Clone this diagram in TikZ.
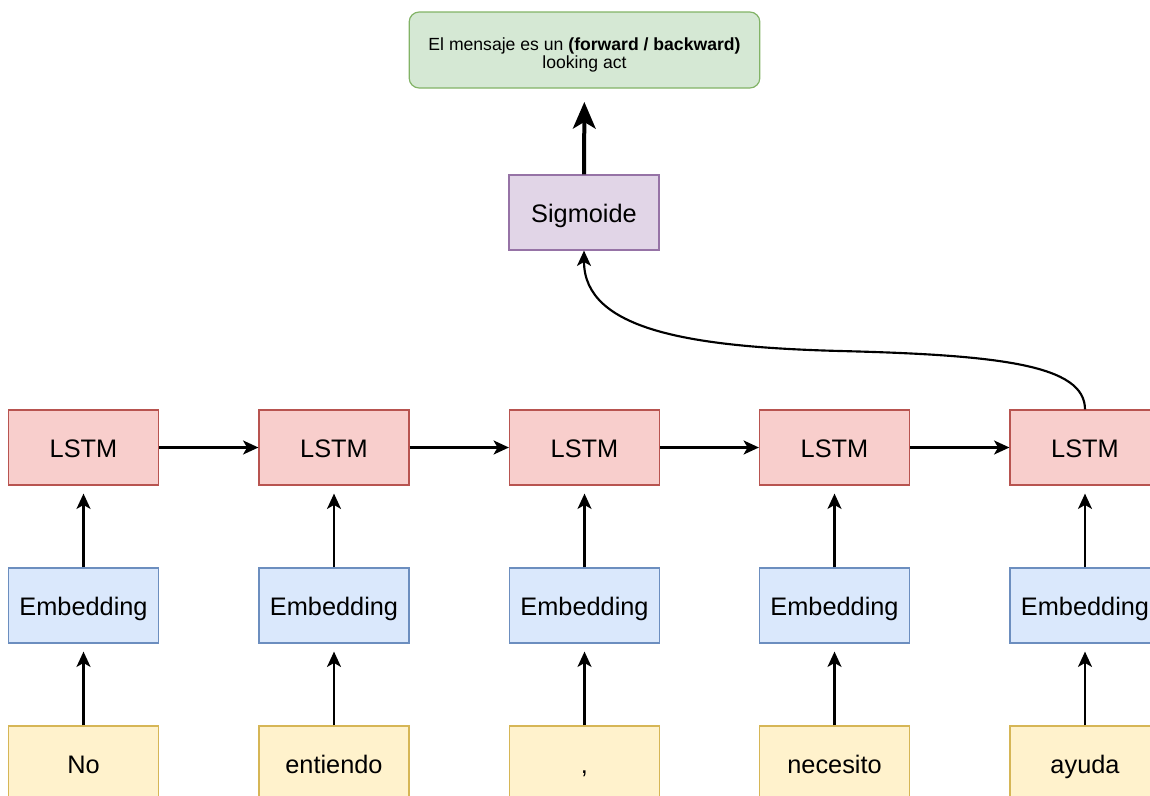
\documentclass[tikz,border=0pt]{standalone}
\usepackage{fontspec}
\setmainfont{Liberation Sans}
\usetikzlibrary{arrows.meta}

\definecolor{greenfill}{HTML}{D5E8D4}\definecolor{greenline}{HTML}{82B366}
\definecolor{purplefill}{HTML}{E1D5E7}\definecolor{purpleline}{HTML}{9673A6}
\definecolor{redfill}{HTML}{F8CECC}\definecolor{redline}{HTML}{B85450}
\definecolor{bluefill}{HTML}{DAE8FC}\definecolor{blueline}{HTML}{6C8EBF}
\definecolor{yellowfill}{HTML}{FFF2CC}\definecolor{yellowline}{HTML}{D6B656}

\tikzset{
  box/.style={draw, line width=0.9pt, minimum width=112.5pt, minimum height=56.25pt,
    inner sep=0pt, text height=16pt, text depth=1.3pt,
    font=\fontsize{19}{22}\selectfont},
  lstm/.style={box, fill=redfill, draw=redline},
  embed/.style={box, fill=bluefill, draw=blueline},
  word/.style={box, fill=yellowfill, draw=yellowline},
  sigbox/.style={box, fill=purplefill, draw=purpleline},
  outbox/.style={draw=greenline, fill=greenfill, line width=0.9pt, rounded corners=7.5pt,
    minimum width=263pt, minimum height=57pt, inner sep=0pt},
  outtext/.style={align=center, inner sep=0pt, font=\fontsize{13.2}{14}\selectfont},
  flow/.style={line width=1.6pt, -{Stealth[length=11.5pt, width=10.5pt, inset=3pt]}},
  bigflow/.style={line width=3pt, -{Stealth[length=20pt, width=17pt, inset=5pt]}},
}

\begin{document}
\begin{tikzpicture}[x=0.75pt, y=-0.75pt]
  \useasboundingbox (0,0) rectangle (1150,796);
  \clip (0,0) rectangle (1150,796);

  % output and sigmoid
  \node[outbox] (out) at (584.5,50) {};
  \node[outtext] (outlabel) at (584.5,55) {El mensaje es un \textbf{(forward / backward)}\\looking act};
  \node[sigbox] (sig) at (584,212.5) {Sigmoide};

  % one column per token
  \foreach \i/\x/\w in {1/83.5/No, 2/334/entiendo, 3/584.5/{,}, 4/834.5/necesito, 5/1085/ayuda} {
    \node[lstm]  (l\i) at (\x,447.5) {LSTM};
    \node[embed] (e\i) at (\x,605.5) {Embedding};
    \node[word]  (w\i) at (\x,763.5) {\w};
    \draw[flow, shorten >=6pt] (w\i) -- (e\i);
    \draw[flow, shorten >=6pt] (e\i) -- (l\i);
  }

  % recurrent chain
  \foreach \a/\b in {1/2, 2/3, 3/4, 4/5}
    \draw[flow] (l\a) -- (l\b);

  % last hidden state to the classifier
  \coordinate (mid) at (840,351);
  \draw[flow] (l5.north) .. controls (1085,365) and (1000,355) .. (mid)
              .. controls (690,347) and (584,330) .. (sig.south);

  \draw[bigflow, shorten >=10pt] (sig) -- (out);
\end{tikzpicture}
\end{document}
